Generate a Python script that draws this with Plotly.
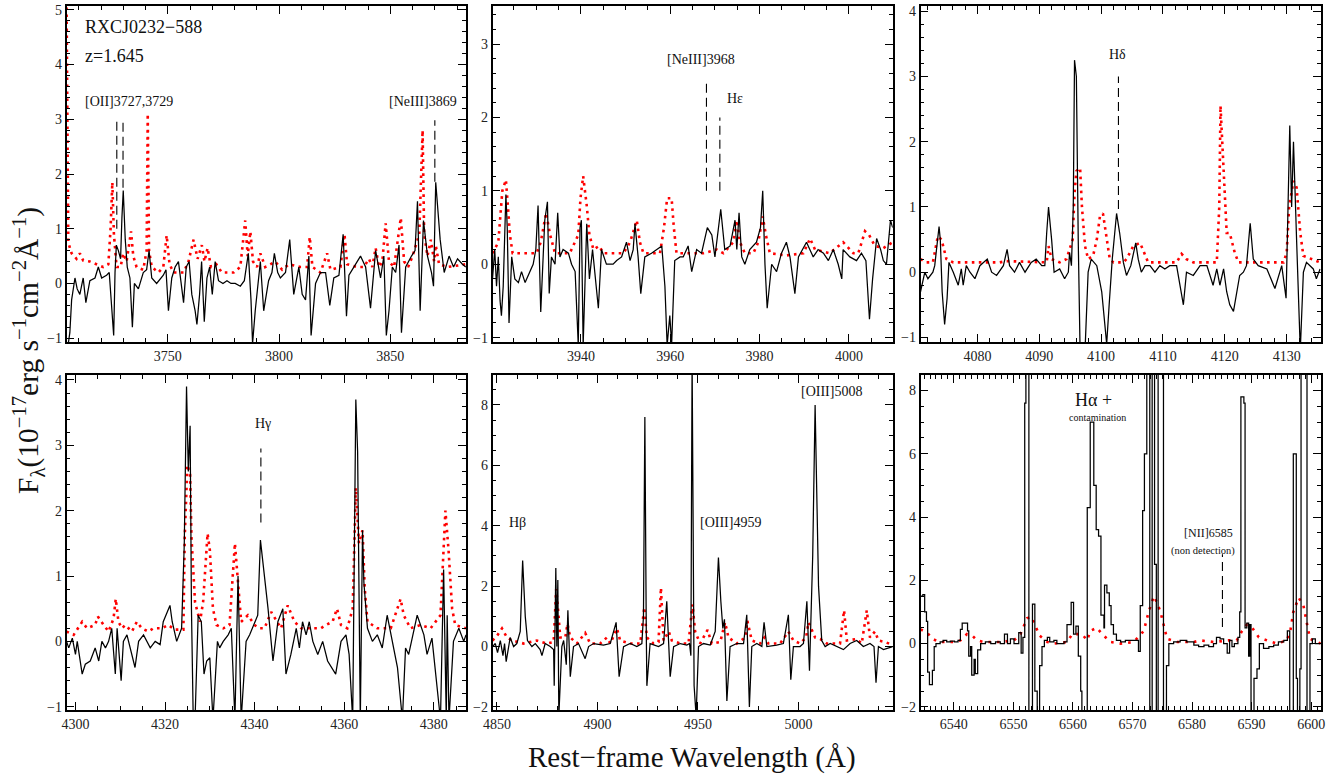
import plotly.graph_objects as go

# ---------------- data (rest-frame wavelength in Angstrom, flux in 1e-17 erg/s/cm2/A) -------------
# Panel 1: [OII], [NeIII]3869
p1_wave = [3704.5, 3705.3, 3706.0, 3706.8, 3708.3, 3709.3, 3710.5, 3712.0, 3713.2, 3715.0, 3717.3, 3718.8,
           3720.3, 3722.5, 3723.7, 3724.6, 3725.1, 3725.7, 3726.3, 3726.9, 3727.8, 3728.8, 3729.4, 3730.0,
           3730.9, 3731.8, 3733.0, 3734.1, 3735.0, 3736.8, 3739.0, 3740.5, 3741.6, 3742.8, 3745.0, 3746.8,
           3748.0, 3749.2, 3750.3, 3751.8, 3753.3, 3754.8, 3756.3, 3757.1, 3758.3, 3759.6, 3760.8, 3762.3,
           3763.1, 3764.3, 3765.2, 3766.4, 3767.6, 3768.8, 3770.0, 3771.3, 3772.8, 3774.8, 3776.6, 3778.4,
           3780.3, 3782.6, 3784.4, 3785.3, 3786.2, 3787.4, 3788.1, 3789.3, 3790.8, 3791.6, 3793.1, 3795.3,
           3796.8, 3797.9, 3799.4, 3800.6, 3802.9, 3804.8, 3806.6, 3808.9, 3810.4, 3811.9, 3813.4, 3814.4,
           3816.4, 3818.6, 3820.9, 3822.8, 3824.6, 3826.9, 3828.8, 3830.3, 3831.4, 3833.6, 3836.6, 3838.9,
           3841.1, 3843.4, 3845.6, 3847.1, 3848.2, 3849.4, 3850.9, 3852.4, 3853.9, 3855.0, 3856.9, 3859.5,
           3861.1, 3862.2, 3863.4, 3864.9, 3866.7, 3868.5, 3869.4, 3870.4, 3872.4, 3874.2, 3876.4, 3878.4,
           3880.2, 3882.4, 3883.9]
p1_flux = [-1.2, -1.1, -0.9, -0.3, 0.1, -0.1, -0.2, 0.1, -0.35, 0.05, 0.1, 0.3,
           0.1, 0.15, 0.2, -0.3, -0.6, -0.95, 0.2, 0.7, 0.6, 0.45, 1.2, 1.7,
           0.8, 0.3, 0.1, -0.8, 0.0, -0.1, 0.2, 0.25, 0.6, 0.1, 0.0, 0.1,
           0.15, 0.25, -0.5, 0.1, 0.3, 0.4, -0.1, -0.35, 0.3, 0.4, -0.2, -0.5,
           -0.75, -0.2, 0.4, -0.7, 0.1, 0.3, -0.2, 0.4, 0.05, 0.0, 0.05, 0.0,
           0.0, -0.05, 0.05, 0.3, 0.55, -0.3, -1.1, -0.5, 0.1, 0.4, -0.5, 0.05,
           0.2, 0.55, 0.2, 0.1, 0.2, 0.8, -0.2, 0.3, -0.2, -0.3, 0.5, -0.95,
           0.0, 0.2, 0.2, -0.4, 0.1, 0.15, 0.9, -0.6, 0.15, 0.3, 0.5, 0.3,
           -0.45, 0.6, 0.1, 0.5, -0.95, -0.5, 0.3, 0.2, 0.7, -0.9, 0.3, 0.5,
           0.6, 1.5, -0.5, 1.15, 0.5, 0.2, -0.05, 1.85, 0.8, 0.2, 0.5, 0.3,
           0.45, 0.35, 0.3]
p1_cont_wave = [3704.5, 3705.3, 3706.8, 3709.0, 3710.5, 3712.0, 3715.0, 3718.0, 3721.0, 3723.3, 3724.3, 3725.1,
                3725.8, 3727.0, 3728.8, 3730.0, 3731.5, 3733.5, 3734.5, 3736.0, 3739.0, 3740.5, 3741.0, 3741.6,
                3742.8, 3745.8, 3748.0, 3749.5, 3750.8, 3752.6, 3757.1, 3759.3, 3761.6, 3763.4, 3765.3, 3766.5,
                3767.9, 3769.4, 3771.8, 3774.3, 3779.6, 3782.6, 3784.8, 3785.9, 3787.1, 3788.3, 3790.1, 3791.6,
                3793.8, 3798.3, 3801.4, 3804.4, 3809.6, 3812.6, 3813.8, 3815.0, 3818.6, 3821.6, 3823.1, 3827.6,
                3829.4, 3830.6, 3835.1, 3838.1, 3840.4, 3841.9, 3843.4, 3844.9, 3846.4, 3847.9, 3849.4, 3851.7,
                3854.7, 3856.2, 3858.0, 3860.0, 3863.0, 3864.5, 3865.2, 3866.7, 3868.2, 3869.7, 3870.4, 3871.9,
                3875.7, 3883.9]
p1_cont_flux = [5.3, 0.75, 0.55, 0.45, 0.55, 0.42, 0.4, 0.35, 0.3, 0.35, 1.0, 1.85,
                0.9, 0.3, 0.3, 0.55, 0.4, 0.95, 0.5, 0.3, 0.25, 0.6, 3.1, 0.6,
                0.3, 0.2, 0.3, 0.88, 0.35, 0.2, 0.2, 0.4, 0.8, 0.45, 0.7, 0.4,
                0.65, 0.3, 0.35, 0.2, 0.2, 0.3, 1.15, 0.5, 0.95, 0.4, 0.3, 0.55,
                0.3, 0.4, 0.25, 0.35, 0.3, 0.3, 0.85, 0.3, 0.2, 0.55, 0.25, 0.3,
                0.9, 0.35, 0.3, 0.3, 0.45, 0.3, 0.65, 0.3, 0.4, 1.1, 0.4, 0.3,
                1.2, 0.4, 0.3, 0.5, 0.9, 2.8, 0.9, 0.5, 0.8, 0.4, 0.7, 0.35,
                0.3, 0.35]

# Panel 2: [NeIII]3968, H-epsilon
p2_wave = [3920.2, 3920.7, 3921.1, 3921.5, 3921.9, 3922.2, 3922.6, 3923.2, 3923.5, 3923.9, 3924.5, 3925.2,
           3926.0, 3926.7, 3927.5, 3928.6, 3929.3, 3929.9, 3930.4, 3931.0, 3931.9, 3932.5, 3932.9, 3933.4,
           3934.2, 3934.8, 3935.3, 3936.0, 3937.2, 3937.9, 3938.7, 3939.4, 3939.8, 3940.1, 3940.5, 3941.3,
           3941.9, 3942.6, 3943.9, 3944.6, 3945.7, 3947.2, 3948.0, 3949.1, 3950.2, 3951.0, 3951.7, 3952.1,
           3952.8, 3953.4, 3954.3, 3955.8, 3956.9, 3958.1, 3958.8, 3959.3, 3959.9, 3960.3, 3961.0, 3962.2,
           3962.9, 3964.0, 3964.8, 3965.9, 3967.0, 3968.3, 3969.3, 3970.0, 3971.3, 3972.2, 3973.4, 3974.5,
           3974.9, 3975.4, 3976.0, 3976.7, 3977.8, 3979.3, 3980.2, 3980.7, 3981.2, 3981.7, 3982.7, 3983.8,
           3984.9, 3986.0, 3986.8, 3987.9, 3988.7, 3990.5, 3992.0, 3993.1, 3994.3, 3995.4, 3996.5, 3997.6,
           3998.4, 3998.7, 4000.2, 4001.7, 4002.8, 4003.8, 4004.6, 4005.3, 4006.2, 4007.1, 4007.7, 4008.4,
           4009.3, 4009.8]
p2_flux = [-0.2, 0.2, -0.3, 0.1, -0.5, -0.7, -0.3, 0.95, 0.5, -0.8, 0.1, -0.2,
           -0.25, -0.1, -0.25, -0.1, 0.0, 0.2, 0.8, -0.65, 0.6, 0.85, -0.4, 0.1,
           0.0, 0.7, 0.1, 0.2, 0.15, 0.0, -0.1, -1.1, 0.5, 0.6, -1.1, 0.55,
           -0.2, 0.2, -0.6, 0.2, 0.0, 0.0, 0.05, 0.1, 0.3, 0.05, 0.2, 0.55,
           0.1, -0.4, 0.1, 0.15, 0.2, 0.25, -0.3, -1.1, -0.7, -1.1, 0.05, 0.1,
           0.1, 0.25, -0.1, 0.2, 0.15, 0.5, 0.4, 0.1, 0.75, 0.2, 0.25, 0.6,
           0.2, 0.7, 0.1, 0.0, 0.2, 0.3, 0.5, 1.0, 0.0, -0.6, 0.0, -0.1,
           0.15, 0.3, 0.1, -0.4, 0.1, 0.3, 0.1, 0.2, 0.15, 0.05, 0.2, 0.0,
           -0.2, 0.2, 0.1, 0.05, 0.15, 0.05, -0.75, -0.2, 0.35, 0.2, 0.05, 0.0,
           0.6, 0.5]
p2_cont_wave = [3920.2, 3921.5, 3922.4, 3923.2, 3923.7, 3924.1, 3924.7, 3930.1, 3931.0, 3932.2, 3933.1, 3934.2,
                3937.5, 3939.4, 3939.9, 3940.5, 3941.3, 3941.9, 3942.8, 3944.1, 3945.0, 3949.5, 3951.0, 3952.5,
                3953.2, 3954.0, 3957.7, 3958.6, 3959.3, 3960.3, 3960.8, 3961.4, 3967.4, 3970.4, 3971.9, 3974.1,
                3974.9, 3975.6, 3976.7, 3978.6, 3979.7, 3980.7, 3981.4, 3982.3, 3986.0, 3989.8, 3991.3, 3992.4,
                3995.7, 3998.7, 4001.0, 4002.1, 4003.6, 4004.5, 4005.8, 4007.7, 4009.8]
p2_cont_flux = [0.15, 0.3, 1.0, 1.15, 0.75, 0.4, 0.15, 0.15, 0.3, 0.7, 0.4, 0.15,
                0.15, 0.4, 0.9, 1.2, 0.8, 0.4, 0.2, 0.25, 0.15, 0.15, 0.3, 0.6,
                0.3, 0.15, 0.15, 0.5, 0.9, 0.9, 0.5, 0.15, 0.15, 0.2, 0.15, 0.3,
                0.6, 0.3, 0.15, 0.15, 0.3, 0.65, 0.4, 0.15, 0.12, 0.15, 0.35, 0.2,
                0.15, 0.3, 0.15, 0.15, 0.45, 0.4, 0.25, 0.22, 0.3]

# Panel 3: H-delta
p3_wave = [4070.8, 4071.5, 4072.0, 4072.8, 4073.1, 4073.5, 4073.8, 4074.0, 4074.3, 4074.7, 4075.1, 4075.4,
           4076.1, 4076.9, 4077.4, 4077.7, 4078.2, 4078.8, 4079.6, 4080.4, 4081.6, 4082.3, 4083.1, 4084.2,
           4084.8, 4085.2, 4086.0, 4086.8, 4087.7, 4088.7, 4089.5, 4090.4, 4090.9, 4091.2, 4091.5, 4092.0,
           4092.4, 4093.3, 4094.1, 4094.7, 4094.9, 4095.2, 4095.5, 4095.7, 4096.0, 4096.3, 4096.6, 4097.4,
           4097.9, 4098.4, 4099.3, 4100.1, 4100.9, 4101.3, 4101.8, 4102.5, 4103.0, 4103.6, 4104.1, 4104.8,
           4105.6, 4106.0, 4106.5, 4107.1, 4107.9, 4108.7, 4109.5, 4110.3, 4111.1, 4112.2, 4113.3, 4113.8,
           4114.9, 4116.0, 4117.1, 4118.1, 4118.7, 4119.2, 4119.8, 4120.3, 4120.8, 4121.4, 4121.9, 4122.4,
           4123.0, 4123.5, 4124.1, 4124.6, 4125.4, 4126.8, 4128.1, 4129.2, 4129.9, 4130.3, 4130.5, 4130.8,
           4131.1, 4131.6, 4132.2, 4132.7, 4133.2, 4134.3, 4134.8, 4135.4]
p3_flux = [-0.3, 0.0, -0.1, 0.0, 0.1, 0.5, 0.7, 0.5, -0.3, -0.8, -0.4, 0.15,
           0.0, -0.2, 0.05, -0.2, 0.1, 0.0, -0.1, 0.1, 0.2, 0.0, -0.05, 0.1,
           0.35, 0.1, 0.0, 0.15, 0.0, 0.15, 0.2, 0.1, 0.1, 0.6, 1.0, 0.5,
           0.0, 0.05, -0.1, 0.0, 0.3, 0.1, 1.0, 3.25, 3.0, 0.5, -1.2, -1.2,
           0.0, 0.2, 0.1, -0.3, -1.1, -0.5, 0.2, 0.9, 0.6, 0.15, -0.05, 0.1,
           0.45, 0.2, 0.0, 0.1, 0.1, 0.0, 0.1, 0.05, 0.1, 0.1, -0.5, 0.0,
           -0.05, 0.1, 0.1, -0.2, 0.05, -0.2, 0.05, -0.3, -0.5, -0.6, -0.3, -0.05,
           0.0, 0.1, 0.75, 0.2, 0.1, 0.05, -0.25, 0.1, -0.4, 1.7, 2.25, 1.0,
           2.0, 0.5, -1.2, 0.0, 0.15, 0.05, -0.1, 0.05]
p3_cont_wave = [4070.8, 4071.7, 4072.8, 4073.6, 4074.2, 4075.0, 4076.1, 4083.6, 4084.7, 4089.0, 4091.2, 4091.5,
                4092.0, 4093.3, 4094.4, 4095.4, 4095.7, 4096.0, 4096.6, 4096.9, 4097.4, 4097.9, 4098.7, 4099.3,
                4099.8, 4100.3, 4100.9, 4101.4, 4102.0, 4103.6, 4104.1, 4105.2, 4106.3, 4107.1, 4107.6, 4112.2,
                4113.0, 4113.8, 4114.9, 4118.7, 4119.1, 4119.3, 4119.8, 4120.3, 4120.8, 4121.6, 4122.2, 4129.5,
                4130.0, 4130.4, 4131.1, 4131.6, 4132.2, 4132.7, 4135.4]
p3_cont_flux = [0.2, 0.15, 0.15, 0.55, 0.5, 0.2, 0.15, 0.15, 0.17, 0.15, 0.15, 0.4,
                0.2, 0.15, 0.2, 0.5, 1.2, 1.55, 1.6, 1.0, 0.4, 0.2, 0.25, 0.5,
                0.85, 0.9, 0.5, 0.2, 0.15, 0.15, 0.2, 0.4, 0.45, 0.25, 0.15, 0.15,
                0.28, 0.2, 0.15, 0.15, 1.0, 2.55, 1.5, 0.6, 0.6, 0.3, 0.15, 0.15,
                0.3, 1.0, 1.4, 1.3, 0.6, 0.25, 0.15]

# Panel 4: H-gamma
p4_wave = [4298.0, 4298.5, 4299.3, 4300.0, 4300.4, 4301.5, 4302.2, 4303.3, 4304.4, 4305.2, 4305.9, 4306.7,
           4307.4, 4308.1, 4308.9, 4309.3, 4310.2, 4310.7, 4311.5, 4312.2, 4313.3, 4314.1, 4315.2, 4316.7,
           4317.8, 4318.9, 4319.6, 4321.1, 4321.6, 4322.6, 4323.7, 4324.3, 4324.8, 4325.2, 4325.6, 4325.9,
           4326.3, 4326.7, 4327.4, 4328.1, 4328.7, 4329.3, 4330.0, 4330.7, 4331.7, 4332.2, 4333.0, 4334.1,
           4334.8, 4335.6, 4336.3, 4337.0, 4338.1, 4338.9, 4340.0, 4340.7, 4341.3, 4342.2, 4343.0, 4344.1,
           4345.2, 4346.3, 4347.0, 4348.1, 4349.3, 4350.0, 4350.7, 4351.5, 4352.2, 4353.0, 4354.1, 4355.2,
           4356.3, 4358.1, 4359.3, 4360.4, 4361.1, 4361.9, 4362.6, 4363.0, 4363.6, 4364.1, 4364.4, 4365.2,
           4366.3, 4367.4, 4368.5, 4369.6, 4370.7, 4371.5, 4371.9, 4373.0, 4373.7, 4374.4, 4375.6, 4376.3,
           4377.8, 4378.5, 4379.6, 4381.5, 4382.2, 4382.8, 4383.0, 4383.4, 4384.4, 4385.6, 4386.7, 4387.2]
p4_flux = [0.0, -0.1, 0.05, -0.2, 0.0, -0.5, -0.35, -0.3, -0.1, -0.3, 0.0, -0.1,
           0.0, 0.2, -0.5, 0.2, -0.6, 0.0, 0.1, -0.1, -0.4, 0.0, 0.1, -0.1,
           0.0, -0.05, 0.3, 0.55, 0.3, 0.0, 0.2, 1.5, 3.9, 2.6, 3.3, 0.5,
           -1.2, -1.2, 0.4, 0.3, -0.5, -0.3, -0.25, -1.2, 0.0, -0.1, 0.0, 0.1,
           0.2, -1.2, 1.0, -1.2, 0.0, 0.1, 0.3, 0.4, 1.55, 1.0, 0.5, -0.3,
           0.3, 0.5, -0.5, -0.2, 0.2, -0.1, 0.3, 0.1, 0.3, 0.0, -0.2, 0.0,
           -0.3, -0.5, 0.0, 0.1, -0.2, -1.2, 3.7, 2.9, -1.2, 1.7, 0.9, 0.2,
           0.0, 0.1, -0.1, 0.4, 0.0, -0.3, -0.4, -1.2, -0.1, -0.2, 0.15, 0.4,
           0.1, -0.2, 0.05, -1.2, 1.1, -1.2, 0.4, -1.2, 0.0, 0.2, 0.0, 0.1]
p4_cont_wave = [4298.0, 4299.6, 4301.5, 4302.6, 4304.4, 4305.0, 4306.3, 4307.4, 4308.5, 4309.0, 4309.6, 4310.4,
                4311.1, 4312.6, 4313.7, 4314.8, 4316.3, 4317.4, 4319.3, 4320.7, 4322.2, 4324.1, 4324.4, 4325.0,
                4325.6, 4325.9, 4326.7, 4327.8, 4328.5, 4329.5, 4330.0, 4330.7, 4331.5, 4333.0, 4334.4, 4335.6,
                4336.3, 4337.0, 4338.5, 4340.0, 4341.1, 4342.2, 4343.7, 4345.9, 4347.4, 4348.9, 4350.4, 4354.8,
                4355.9, 4357.4, 4358.4, 4359.3, 4360.7, 4361.9, 4362.6, 4363.3, 4364.1, 4364.6, 4365.2, 4367.4,
                4370.4, 4371.9, 4372.6, 4373.3, 4374.8, 4377.0, 4379.3, 4381.5, 4382.6, 4383.3, 4384.1, 4384.8,
                4387.2]
p4_cont_flux = [0.15, 0.1, 0.3, 0.2, 0.25, 0.38, 0.25, 0.15, 0.35, 0.65, 0.3, 0.2,
                0.25, 0.15, 0.3, 0.2, 0.15, 0.2, 0.2, 0.25, 0.18, 0.18, 1.6, 2.7,
                2.55, 1.6, 0.6, 0.3, 0.6, 1.65, 1.4, 0.5, 0.25, 0.2, 0.25, 1.5,
                0.9, 0.3, 0.4, 0.25, 0.2, 0.2, 0.45, 0.2, 0.55, 0.3, 0.2, 0.2,
                0.25, 0.3, 0.5, 0.25, 0.2, 0.5, 2.35, 1.5, 1.7, 0.8, 0.3, 0.2,
                0.2, 0.5, 0.65, 0.4, 0.2, 0.25, 0.2, 0.4, 2.0, 1.4, 0.5, 0.25,
                0.2]

# Panel 5: H-beta, [OIII]4959,5008
p5_wave = [4847.8, 4849.2, 4850.3, 4851.7, 4853.0, 4853.8, 4854.6, 4855.8, 4856.6, 4858.3, 4859.9, 4861.6,
           4862.8, 4864.1, 4865.2, 4867.4, 4869.1, 4871.5, 4872.4, 4874.0, 4876.5, 4878.2, 4878.5, 4879.3,
           4879.8, 4880.3, 4880.8, 4882.3, 4883.2, 4884.5, 4885.3, 4886.5, 4888.1, 4890.6, 4893.9, 4895.6,
           4898.1, 4903.0, 4906.4, 4909.3, 4910.8, 4913.0, 4916.3, 4919.6, 4922.1, 4922.9, 4923.6, 4924.3,
           4924.6, 4926.2, 4930.4, 4932.9, 4934.5, 4936.2, 4937.9, 4941.2, 4944.5, 4945.8, 4946.5, 4947.1,
           4948.1, 4949.1, 4950.3, 4952.8, 4956.1, 4958.6, 4960.2, 4961.4, 4962.4, 4963.2, 4964.4, 4966.0,
           4969.3, 4972.7, 4974.3, 4975.6, 4976.8, 4979.3, 4981.8, 4982.9, 4984.3, 4989.2, 4992.5, 4995.0,
           4996.2, 4997.5, 5000.8, 5002.5, 5004.2, 5005.5, 5006.1, 5007.1, 5008.3, 5009.1, 5010.0, 5011.6,
           5013.3, 5015.8, 5019.1, 5022.4, 5025.7, 5029.0, 5032.3, 5035.6, 5037.6, 5038.6, 5039.8, 5042.3,
           5046.9]
p5_flux = [0.0, 0.1, -0.2, 0.2, -0.3, 0.1, -0.5, 0.0, 0.3, 0.0, 0.1, 0.5,
           2.85, 1.0, 0.2, 0.0, 0.1, -0.1, -0.3, 0.1, 0.0, -0.1, -1.3, 2.6,
           0.0, 2.2, -2.3, 0.0, 0.2, -0.6, 1.2, -1.0, 0.0, 0.1, -0.4, 0.0,
           0.1, 0.05, 0.1, 0.8, -1.0, 0.0, 0.1, 0.0, 0.1, 1.0, 7.6, 0.5,
           -1.3, 0.1, 0.0, 0.1, 1.5, -1.0, 0.0, 0.1, 0.05, 0.1, -0.3, 9.6,
           -1.3, -2.3, 0.0, 0.1, 0.05, 0.5, 2.95, 1.5, 0.6, 0.9, -1.8, 0.0,
           0.1, 0.1, 1.05, -2.0, 0.0, 0.1, 0.0, 0.8, 0.0, 0.05, 0.1, 1.05,
           -1.1, 0.0, 0.0, 0.1, 1.5, -0.8, 0.5, 3.0, 8.0, 5.5, 2.0, 0.2,
           0.0, 0.1, 0.0, -0.1, 0.1, 0.2, 0.0, 0.1, 0.0, -1.2, 0.0, -0.1,
           0.0]
p5_cont_wave = [4847.8, 4850.0, 4852.5, 4855.0, 4857.5, 4863.3, 4869.9, 4874.9, 4878.2, 4879.5, 4880.2, 4881.5,
                4884.0, 4885.1, 4886.5, 4889.8, 4893.9, 4896.4, 4901.4, 4904.7, 4906.4, 4909.7, 4911.3, 4916.3,
                4921.3, 4923.3, 4924.6, 4927.9, 4930.4, 4931.6, 4932.9, 4935.5, 4937.0, 4941.2, 4945.3, 4947.3,
                4948.6, 4951.1, 4954.8, 4956.9, 4961.1, 4963.5, 4965.2, 4969.3, 4973.5, 4974.6, 4976.8, 4980.9,
                4983.1, 4985.1, 4990.9, 4995.0, 4997.5, 5000.8, 5003.8, 5005.0, 5008.3, 5010.8, 5014.1, 5020.7,
                5022.7, 5024.1, 5029.0, 5031.5, 5034.0, 5035.6, 5038.1, 5039.8, 5043.1, 5046.9]
p5_cont_flux = [0.2, 0.35, 0.6, 0.3, 0.2, 0.1, 0.2, 0.1, 0.15, 1.9, 1.4, 0.3,
                0.3, 0.75, 0.3, 0.1, 0.45, 0.1, 0.1, 0.3, 0.1, 0.6, 0.2, 0.1,
                0.1, 1.3, 0.3, 0.1, 0.15, 1.95, 0.2, 0.5, 0.2, 0.1, 0.1, 1.4,
                0.5, 0.1, 0.55, 0.1, 0.15, 0.8, 0.3, 0.1, 0.3, 0.85, 0.2, 0.1,
                0.3, 0.1, 0.1, 0.5, 0.2, 0.1, 0.3, 0.8, 0.3, 0.25, 0.1, 0.1,
                1.2, 0.2, 0.25, 0.1, 1.2, 0.3, 0.5, 0.2, 0.15, 0.05]

# Panel 6: H-alpha + contamination, [NII]6585 (binned, drawn as steps)
p6_wave = [6534.4, 6534.8, 6535.1, 6535.4, 6535.6, 6535.9, 6536.4, 6536.7, 6537.0, 6537.7, 6538.2, 6538.8,
           6539.4, 6540.1, 6540.7, 6541.1, 6541.4, 6542.3, 6542.5, 6542.8, 6543.0, 6543.4, 6543.6, 6544.0,
           6544.5, 6545.3, 6546.2, 6547.0, 6547.8, 6548.5, 6549.0, 6549.5, 6550.1, 6550.9, 6551.3, 6551.6,
           6551.9, 6552.1, 6552.6, 6553.2, 6553.6, 6554.0, 6554.4, 6554.8, 6555.2, 6555.7, 6556.1, 6556.8,
           6557.3, 6558.5, 6559.0, 6559.7, 6560.1, 6560.5, 6560.9, 6561.3, 6561.5, 6562.4, 6562.9, 6563.5,
           6563.9, 6564.3, 6564.7, 6565.2, 6565.3, 6565.7, 6566.1, 6566.4, 6566.8, 6567.3, 6568.0, 6568.8,
           6570.2, 6571.0, 6571.3, 6571.7, 6572.0, 6572.4, 6572.9, 6573.3, 6573.7, 6574.0, 6574.3, 6575.2,
           6575.7, 6576.1, 6576.9, 6578.0, 6579.1, 6580.3, 6581.1, 6582.0, 6582.8, 6583.6, 6584.1, 6584.7,
           6585.3, 6585.9, 6586.3, 6586.7, 6587.1, 6587.7, 6588.0, 6588.2, 6588.7, 6588.9, 6589.2, 6589.5,
           6589.7, 6589.9, 6590.4, 6590.9, 6591.3, 6592.0, 6592.9, 6593.7, 6594.5, 6595.4, 6596.0, 6596.4,
           6597.0, 6597.5, 6597.7, 6598.1, 6598.3, 6598.8, 6599.3, 6599.8, 6600.2, 6600.7, 6601.6]
p6_flux = [1.5, 1.55, 1.0, 0.7, -0.9, -1.3, -0.85, -0.1, 0.0, 0.05, 0.1, 0.05,
           0.08, 0.05, 0.1, 0.45, 0.65, 0.4, -0.4, -0.1, -1.0, -0.5, -0.95, -0.2,
           0.0, 0.05, 0.0, 0.05, 0.0, 0.3, 0.0, 0.15, 0.0, 0.35, -0.3, 0.2,
           7.6, 9.8, -2.5, 1.25, -1.5, -2.5, -0.7, -0.1, 0.1, 0.2, 0.05, 0.1,
           0.0, 0.05, 0.6, 1.3, 0.3, 0.55, -0.4, -1.5, -2.5, 4.3, 7.0, 5.0,
           3.6, 3.4, 0.9, 0.5, 1.85, 1.6, 1.2, 0.6, 0.3, 0.1, 0.05, 0.1,
           0.1, -0.25, 1.2, 4.2, 6.0, 9.8, -2.5, 9.8, 2.5, -2.5, 9.8, -2.5,
           -0.7, 0.0, 0.05, 0.1, 0.05, -0.05, -0.1, -0.05, -0.1, 0.0, 0.2, 0.15,
           0.0, -0.3, 0.1, -0.1, 0.0, 0.2, 1.0, 7.8, 7.6, 0.5, 0.65, -0.4,
           0.6, -2.5, -1.1, -0.8, 0.0, -0.15, -0.1, -0.05, 0.05, 0.1, 0.4, -2.5,
           6.0, -1.1, -2.5, -0.8, 9.8, 9.8, -2.5, 0.0, 0.15, 0.0, 0.0]
p6_cont_wave = [6534.4, 6535.5, 6536.4, 6537.5, 6540.0, 6541.1, 6542.2, 6543.1, 6543.9, 6545.0, 6547.8, 6550.1,
                6551.2, 6552.3, 6553.0, 6553.6, 6554.4, 6555.7, 6556.8, 6559.0, 6559.9, 6561.5, 6562.4, 6562.9,
                6564.0, 6564.9, 6566.3, 6568.0, 6570.2, 6571.9, 6572.7, 6573.6, 6574.1, 6574.7, 6575.4, 6575.8,
                6577.5, 6580.3, 6581.4, 6583.6, 6586.1, 6587.5, 6588.4, 6589.2, 6590.1, 6591.2, 6592.6, 6594.3,
                6595.9, 6596.5, 6597.0, 6597.9, 6598.7, 6599.4, 6599.8, 6601.6]
p6_cont_flux = [0.45, 0.35, 0.15, 0.05, 0.05, 0.1, 0.3, 0.25, 0.1, 0.05, 0.05, 0.1,
                0.3, 0.8, 0.85, 0.6, 0.25, 0.05, 0.0, 0.05, 0.3, 0.3, 0.1, 0.4,
                0.5, 0.3, 0.05, 0.0, 0.05, 0.4, 1.0, 1.5, 1.3, 1.0, 0.5, 0.15,
                0.05, 0.05, 0.1, 0.05, 0.1, 0.1, 0.4, 0.6, 0.5, 0.2, 0.1, 0.0,
                0.1, 0.4, 1.0, 1.45, 1.2, 0.6, 0.15, 0.0]

# emission-line markers: panel, wavelength, dashed-line bottom and top (flux units)
marker_panel = [1, 1, 1, 2, 2, 3, 4, 6]
marker_wave = [3727.1, 3729.9, 3870.0, 3968.1, 3971.1, 4102.8, 4341.4, 6585.1]
marker_y0 = [1.0, 1.75, 1.86, 1.0, 1.0, 0.97, 1.82, 0.52]
marker_y1 = [3.0, 3.0, 2.98, 2.52, 2.0, 3.0, 2.95, 2.82]

# axis settings per panel
x_ranges = [[3704.5, 3884.0], [3920.2, 4009.8], [4070.8, 4135.5],
            [4298.0, 4387.2], [4847.8, 5046.9], [6534.4, 6601.6]]
y_ranges = [[-1.07, 5.07], [-1.06, 3.52], [-1.07, 4.08],
            [-1.05, 4.08], [-2.1, 9.0], [-2.1, 8.5]]
x_dtick = [50, 20, 10, 20, 50, 10]
x_minor = [10, 5, 2, 5, 10, 1]
y_dtick = [1, 1, 1, 1, 2, 2]
y_minor = [0.2, 0.2, 0.2, 0.2, 0.5, 0.5]

spectra = [(p1_wave, p1_flux, p1_cont_wave, p1_cont_flux),
           (p2_wave, p2_flux, p2_cont_wave, p2_cont_flux),
           (p3_wave, p3_flux, p3_cont_wave, p3_cont_flux),
           (p4_wave, p4_flux, p4_cont_wave, p4_cont_flux),
           (p5_wave, p5_flux, p5_cont_wave, p5_cont_flux),
           (p6_wave, p6_flux, p6_cont_wave, p6_cont_flux)]

# ---------------- layout geometry ----------------
W, H = 1343, 778
FONT = "Liberation Serif"
col_px = [(66.5, 466.0), (492.5, 892.7), (920.5, 1320.7)]
row_px = [(6.0, 342.0), (374.7, 710.0)]

fig = go.Figure()
layout_axes = {}
for i in range(6):
    r, c = divmod(i, 3)
    n = i + 1
    xa = "x" if n == 1 else f"x{n}"
    ya = "y" if n == 1 else f"y{n}"
    w, f, cw, cf = spectra[i]
    fig.add_trace(go.Scatter(x=cw, y=cf, mode="lines", xaxis=xa, yaxis=ya,
                             line=dict(color="#ff0000", width=2.6,
                                       dash="2.6px,4.4px" if n != 6 else "2.6px,6px"),
                             hoverinfo="skip", showlegend=False))
    fig.add_trace(go.Scatter(x=w, y=f, mode="lines", xaxis=xa, yaxis=ya,
                             line=dict(color="black", width=1.25,
                                       shape="hv" if n == 6 else "linear"),
                             showlegend=False))
    x0, x1 = col_px[c]
    y0, y1 = row_px[r]
    common = dict(showline=True, linecolor="black", linewidth=1.6, mirror="allticks",
                  ticks="inside", ticklen=8, tickwidth=1.2, tickcolor="black",
                  showgrid=False, zeroline=False, automargin=False,
                  tickfont=dict(family=FONT, size=14, color="#222"))
    layout_axes["xaxis" if n == 1 else f"xaxis{n}"] = dict(
        domain=[x0 / W, x1 / W], anchor=ya, range=x_ranges[i], dtick=x_dtick[i],
        tick0=0, minor=dict(dtick=x_minor[i], ticks="inside", ticklen=4,
                            tickcolor="black", tickwidth=1), **common)
    layout_axes["yaxis" if n == 1 else f"yaxis{n}"] = dict(
        domain=[1 - y1 / H, 1 - y0 / H], anchor=xa, range=y_ranges[i], dtick=y_dtick[i],
        tick0=0, minor=dict(dtick=y_minor[i], ticks="inside", ticklen=4,
                            tickcolor="black", tickwidth=1), **common)

# dashed emission-line markers
for p, lw, ya0, ya1 in zip(marker_panel, marker_wave, marker_y0, marker_y1):
    xa = "x" if p == 1 else f"x{p}"
    ya = "y" if p == 1 else f"y{p}"
    fig.add_trace(go.Scatter(x=[lw, lw], y=[ya0, ya1], mode="lines", xaxis=xa, yaxis=ya,
                             line=dict(color="black", width=1.1, dash="9px,5px"),
                             hoverinfo="skip", showlegend=False))

def ann(text, px, py, size, xanchor="center", **kw):
    return dict(text=text, x=px / W, y=1 - py / H, xref="paper", yref="paper",
                xanchor=xanchor, yanchor="middle", showarrow=False,
                font=dict(family=FONT, size=size, color="#111"), **kw)

annotations = [
    ann("RXCJ0232−588", 83, 27, 18, "left"),
    ann("z=1.645", 83, 56, 18, "left"),
    ann("[OII]3727,3729", 83, 102, 14, "left"),
    ann("[NeIII]3869", 459, 101, 14, "right"),
    ann("[NeIII]3968", 701, 60, 14),
    ann("Hε", 725, 98, 14, "left"),
    ann("Hδ", 1117, 54, 14),
    ann("Hγ", 263, 423, 14),
    ann("Hβ", 507, 522, 14, "left"),
    ann("[OIII]4959", 698, 522, 14, "left"),
    ann("[OIII]5008", 799, 391, 14, "left"),
    ann("Hα +", 1093, 400, 18),
    ann("contamination", 1097, 417, 10),
    ann("[NII]6585", 1208, 533, 12),
    ann("(non detection)", 1203, 551, 10.5),
    ann("Rest−frame Wavelength (Å)", 692, 757, 29),
    ann("F<sub>λ</sub>(10<sup>−17</sup>erg s<sup>−1</sup>cm<sup>−2</sup>Å<sup>−1</sup>)",
        28, 351, 29.5, textangle=-90),
]

fig.update_layout(width=W, height=H, margin=dict(l=0, r=0, t=0, b=0, autoexpand=False),
                  paper_bgcolor="white", plot_bgcolor="white",
                  annotations=annotations, **layout_axes)
fig.write_html("out.html", config={"displayModeBar": False},
               post_script="document.body.style.margin='0';")
